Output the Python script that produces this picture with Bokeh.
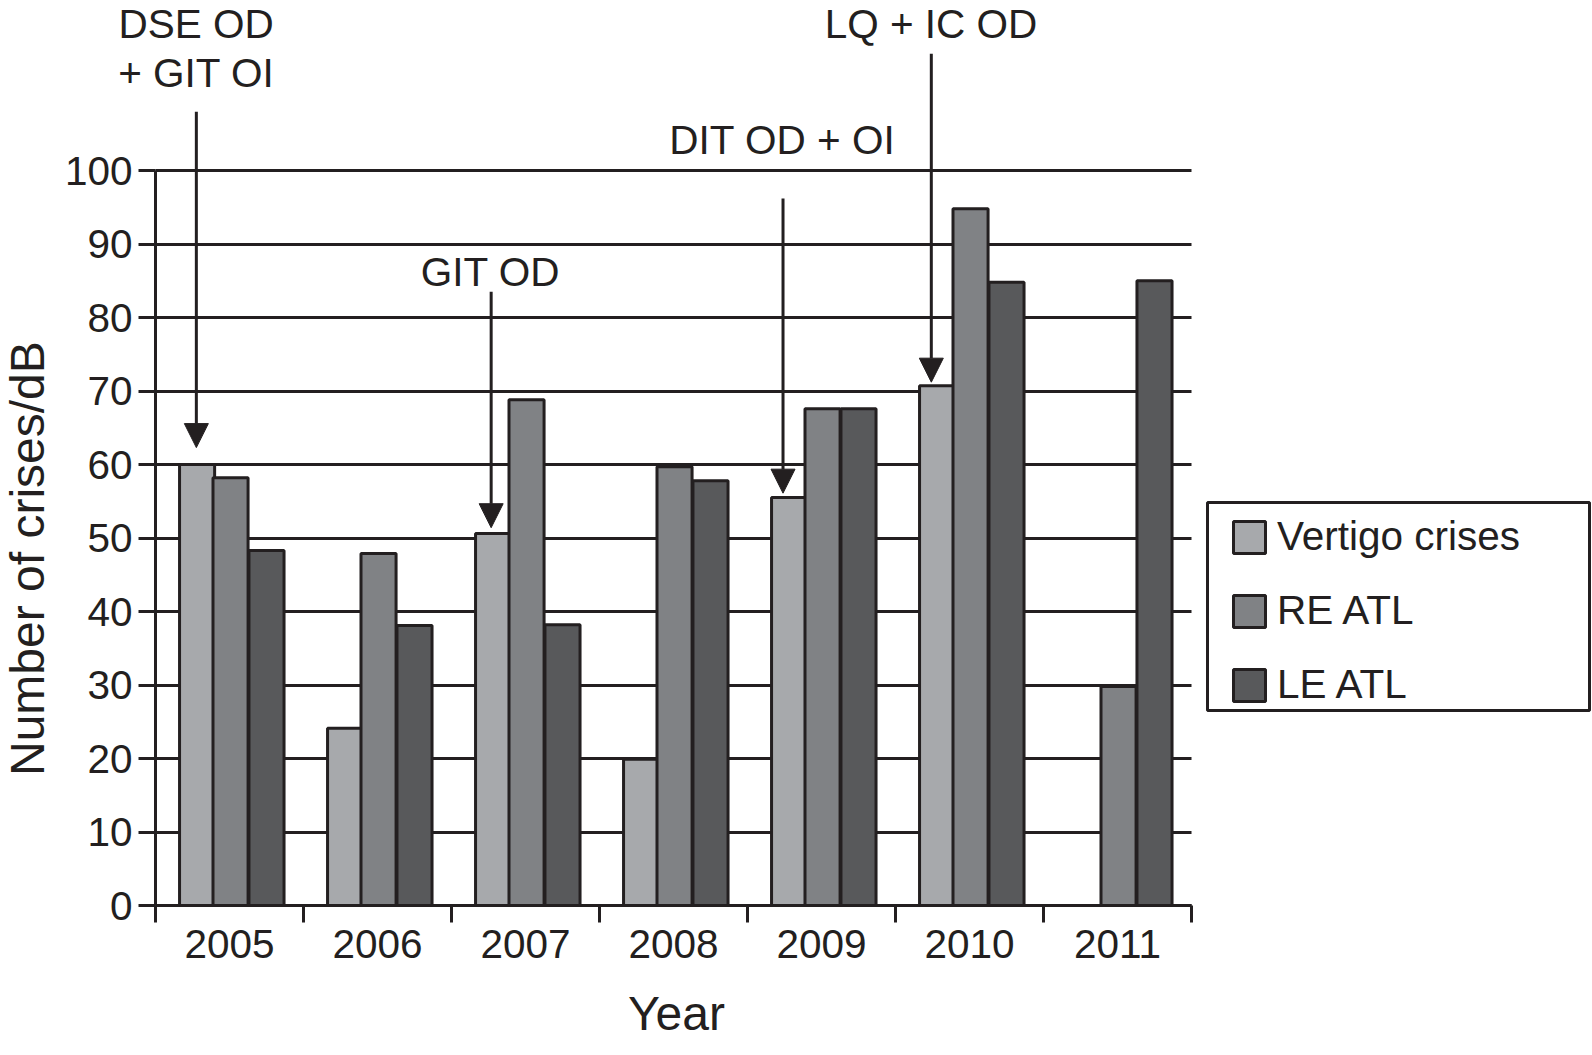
import math
from bokeh.plotting import figure
from bokeh.models import (ColumnDataSource, FixedTicker, Range1d, Legend, LegendItem,
                          Arrow, NormalHead, Grid, BoxAnnotation)
from bokeh.core.properties import value
from bokeh.embed import file_html
from bokeh.resources import INLINE

# ---------------- data ----------------
years = ["2005", "2006", "2007", "2008", "2009", "2010", "2011"]
vertigo_crises = [60.0, 24.1, 50.6, 19.9, 55.5, 70.7, float("nan")]
re_atl = [58.2, 47.9, 68.8, 59.7, 67.6, 94.8, 29.8]
le_atl = [48.3, 38.1, 38.2, 57.8, 67.6, 84.8, 85.0]

y_ticks = [0, 10, 20, 30, 40, 50, 60, 70, 80, 90, 100]
x_title = "Year"
y_title = "Number of crises/dB"

# annotations: arrows pointing at the vertigo bars, with their captions
ann_arrow_x = [-0.224, 1.768, 3.740, 4.742]
ann_arrow_top = [108.0, 83.5, 96.2, 115.9]
ann_arrow_tip = [62.3, 51.4, 56.1, 71.2]
ann_text = ["DSE OD", "+ GIT OI", "GIT OD", "DIT OD + OI", "LQ + IC OD"]
ann_text_x = [-0.226, -0.224, 1.764, 3.736, 4.740]
ann_text_y = [120.0, 113.2, 86.15, 104.15, 119.95]

# axis title positions (data units)
x_title_pos = (3.02, -14.75)
y_title_pos = (-1.366, 47.2)

# ---------------- style ----------------
INK = "#231f20"
COLORS = ["#a7a9ac", "#808285", "#58595b"]
FONT = "Liberation Sans"
BAR_W = 0.237
OFFSETS = [-0.219, 0.007, 0.250]

W, H = 1592, 1052
ZERO_PX = 905          # pixel row of the value 0
PX_X = 148.0           # pixels per year group
PX_Y = 7.35            # pixels per unit
AXIS_PX = 155          # pixel column of the value axis
x0 = -0.5 - AXIS_PX / PX_X
x1 = -0.5 + (W - AXIS_PX) / PX_X
y0 = -(H - ZERO_PX) / PX_Y
y1 = ZERO_PX / PX_Y

# legend frame in pixels (left, right, top, bottom)
LEG_BOX = (1207, 1589, 502, 710)


def px_to_x(px):
    return -0.5 + (px - AXIS_PX) / PX_X


def px_to_y(py):
    return (ZERO_PX - py) / PX_Y


idx = list(range(len(years)))

p = figure(width=W, height=H, output_backend="svg", toolbar_location=None,
           x_range=Range1d(x0, x1), y_range=Range1d(y0, y1),
           min_border_left=0, min_border_right=0, min_border_top=0,
           min_border_bottom=0, title=None)
p.outline_line_color = None
p.background_fill_color = "white"
p.border_fill_color = "white"

# grid lines (only across the bar area)
if "cross_bounds" in Grid.properties():
    p.ygrid.ticker = FixedTicker(ticks=y_ticks)
    p.ygrid.grid_line_color = INK
    p.ygrid.grid_line_width = 3
    p.ygrid.cross_bounds = (-0.5, len(years) - 0.5)
else:
    p.ygrid.grid_line_color = None
    p.segment(x0=[-0.5] * len(y_ticks), x1=[len(years) - 0.5] * len(y_ticks),
              y0=y_ticks, y1=y_ticks, line_color=INK, line_width=3)
p.xgrid.grid_line_color = None

series = [("Vertigo crises", vertigo_crises), ("RE ATL", re_atl), ("LE ATL", le_atl)]
renderers = []
for (name, vals), off, col in zip(series, OFFSETS, COLORS):
    src = ColumnDataSource(dict(x=[i + off for i in idx], top=vals))
    r = p.vbar(x="x", top="top", width=BAR_W, bottom=0, source=src,
               fill_color=col, line_color=INK, line_width=3)
    renderers.append((name, r))

# y axis
yax = p.yaxis[0]
yax.fixed_location = -0.5
yax.ticker = FixedTicker(ticks=y_ticks, minor_ticks=[])
yax.bounds = (0, 100)
yax.axis_line_width = 3
yax.axis_line_color = INK
yax.major_tick_line_width = 3
yax.major_tick_line_color = INK
yax.major_tick_out = 17
yax.major_tick_in = 0
yax.minor_tick_line_color = None
yax.major_label_standoff = 6
yax.major_label_text_font = FONT
yax.major_label_text_font_size = "40.5px"
yax.major_label_text_color = INK

# x axis
xax = p.xaxis[0]
xax.fixed_location = 0
xax.bounds = (-0.5, len(years) - 0.5)
xax.ticker = FixedTicker(ticks=idx, minor_ticks=[i - 0.5 for i in idx] + [len(idx) - 0.5])
xax.major_label_overrides = {i: y for i, y in zip(idx, years)}
xax.axis_line_width = 3
xax.axis_line_color = INK
xax.major_tick_line_color = None
xax.major_tick_out = 0
xax.major_tick_in = 0
xax.minor_tick_line_color = INK
xax.minor_tick_line_width = 3
xax.minor_tick_out = 17
xax.minor_tick_in = 0
xax.major_label_standoff = 7
xax.major_label_text_font = FONT
xax.major_label_text_font_size = "40.5px"
xax.major_label_text_color = INK

# axis titles
p.text(x=[x_title_pos[0]], y=[x_title_pos[1]], text=[x_title], text_font=value(FONT),
       text_font_size=value("48px"), text_align="center", text_baseline="alphabetic",
       text_color=INK)
p.text(x=[y_title_pos[0]], y=[y_title_pos[1]], text=[y_title], text_font=value(FONT),
       text_font_size=value("48px"), text_align="center", text_baseline="alphabetic",
       text_color=INK, angle=math.pi / 2)

# arrows
asrc = ColumnDataSource(dict(x=ann_arrow_x, y0=ann_arrow_top, y1=ann_arrow_tip))
p.add_layout(Arrow(source=asrc, x_start="x", y_start="y0", x_end="x", y_end="y1",
                   line_color=INK, line_width=3,
                   end=NormalHead(size=24, fill_color=INK, line_color=INK, line_width=1)))

# annotation texts
tsrc = ColumnDataSource(dict(x=ann_text_x, y=ann_text_y, text=ann_text))
p.text(x="x", y="y", text="text", source=tsrc, text_font=value(FONT),
       text_font_size=value("40.5px"), text_align="center",
       text_baseline="alphabetic", text_color=INK)

# legend frame + legend
p.add_layout(BoxAnnotation(left=px_to_x(LEG_BOX[0]), right=px_to_x(LEG_BOX[1]),
                           top=px_to_y(LEG_BOX[2]), bottom=px_to_y(LEG_BOX[3]),
                           fill_color="white", fill_alpha=1.0,
                           line_color=INK, line_width=3, line_alpha=1.0))
legend = Legend(items=[LegendItem(label=n, renderers=[r]) for n, r in renderers],
                location=(1229, H - 708), orientation="vertical",
                glyph_width=40, glyph_height=40, label_standoff=8,
                label_width=290, label_height=47, spacing=27, padding=6, margin=0,
                border_line_color=None, background_fill_alpha=0.0,
                label_text_font=FONT, label_text_font_size="40.5px",
                label_text_color=INK)
p.add_layout(legend, "center")

open("out.html", "w").write(file_html(p, INLINE))
